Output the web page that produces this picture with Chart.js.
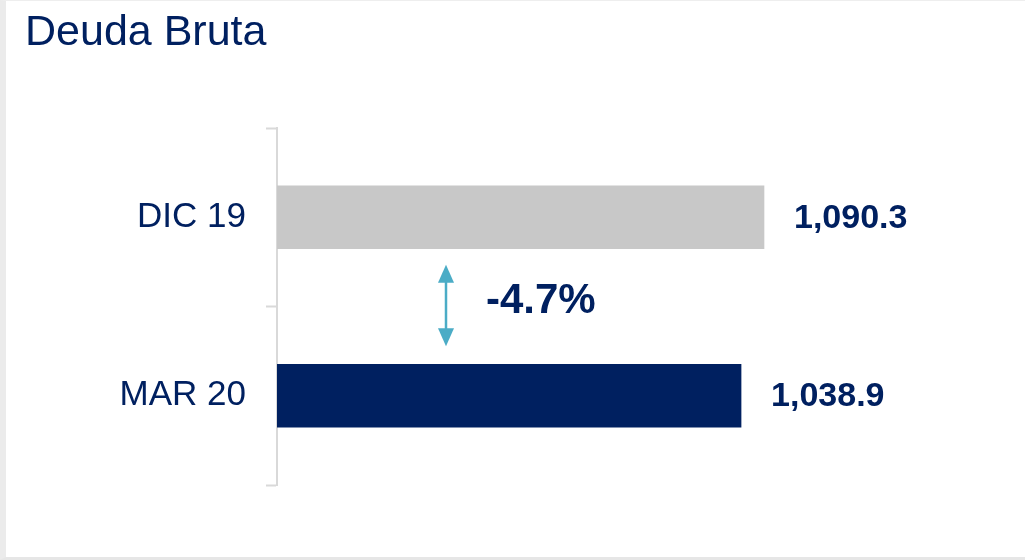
<!DOCTYPE html>
<html>
<head>
<meta charset="utf-8">
<script src="https://cdn.jsdelivr.net/npm/chart.js@4"></script>
<style>
  html, body { margin: 0; padding: 0; background: #fff; }
  #wrap { position: relative; width: 1025px; height: 560px; overflow: hidden; }
  #card {
    position: absolute; left: 0; top: 0; width: 1019px; height: 556px;
    background: #fff;
    border-left: 6px solid #ebebeb; border-top: 1px solid #eeeeee; border-bottom: 3px solid #e6e6e6;
  }
  #chart { position: absolute; left: 0; top: 0; }
</style>
</head>
<body>
<div id="wrap">
  <div id="card"></div>
  <canvas id="chart" width="1025" height="560"></canvas>
</div>
<script>
// datos del grafico
const periodos = ["DIC 19", "MAR 20"];
const deuda = [1090.3, 1038.9];
const colores = ["#c8c8c8", "#002060"];

const azul = "#002060";
const variacion = (deuda[1] - deuda[0]) / deuda[0] * 100;

function fmt(v) {
    return v.toLocaleString("en-US", { minimumFractionDigits: 1, maximumFractionDigits: 1 });
}

// etiquetas de valor al final de cada barra
const etiquetas = {
    id: "etiquetas",
    afterDatasetsDraw(chart) {
        const ctx = chart.ctx;
        const meta = chart.getDatasetMeta(0);
        ctx.save();
        ctx.fillStyle = azul;
        ctx.font = "bold 34px 'Liberation Sans', Arial, sans-serif";
        ctx.textAlign = "left";
        ctx.textBaseline = "middle";
        meta.data.forEach((bar, i) => {
            ctx.fillText(fmt(deuda[i]), bar.x + 30, bar.y + 1);
        });
        ctx.restore();
    }
};

// flecha y porcentaje de variacion
const flecha = {
    id: "flecha",
    afterDatasetsDraw(chart) {
        const ctx = chart.ctx;
        const meta = chart.getDatasetMeta(0);
        const b0 = meta.data[0], b1 = meta.data[1];
        const x = chart.chartArea.left + 169;
        const top = b0.y + b0.height / 2 + 16;
        const bottom = b1.y - b1.height / 2 - 18;
        const head = 18, half = 8;
        ctx.save();
        ctx.strokeStyle = "#4bacc6";
        ctx.fillStyle = "#4bacc6";
        ctx.lineWidth = 2.5;
        ctx.beginPath();
        ctx.moveTo(x, top + head - 2);
        ctx.lineTo(x, bottom - head + 2);
        ctx.stroke();
        ctx.beginPath();
        ctx.moveTo(x, top);
        ctx.lineTo(x - half, top + head);
        ctx.lineTo(x + half, top + head);
        ctx.closePath();
        ctx.fill();
        ctx.beginPath();
        ctx.moveTo(x, bottom);
        ctx.lineTo(x - half, bottom - head);
        ctx.lineTo(x + half, bottom - head);
        ctx.closePath();
        ctx.fill();

        ctx.fillStyle = azul;
        ctx.font = "bold 42px 'Liberation Sans', Arial, sans-serif";
        ctx.textAlign = "left";
        ctx.textBaseline = "middle";
        ctx.fillText(variacion.toFixed(1) + "%", chart.chartArea.left + 209, (top + bottom) / 2 - 4);
        ctx.restore();
    }
};

const ctx = document.getElementById("chart").getContext("2d");
new Chart(ctx, {
    type: "bar",
    data: {
        labels: periodos,
        datasets: [{
            data: deuda,
            backgroundColor: colores,
            borderWidth: 0,
            barThickness: 63
        }]
    },
    options: {
        indexAxis: "y",
        responsive: false,
        animation: false,
        layout: { padding: { left: 25, right: 78, top: 0, bottom: 75 } },
        plugins: {
            legend: { display: false },
            tooltip: { enabled: false },
            title: {
                display: true,
                text: "Deuda Bruta",
                align: "start",
                color: azul,
                font: { family: "'Liberation Sans', Arial, sans-serif", size: 43, weight: "normal", lineHeight: 1.2 },
                padding: { top: 7, bottom: 69.4 }
            }
        },
        scales: {
            x: {
                display: false,
                min: 0,
                max: 1500
            },
            y: {
                afterFit(scale) { scale.width = 252; },
                border: { display: true, color: "#d9d9d9", width: 2 },
                grid: {
                    drawOnChartArea: false,
                    drawTicks: true,
                    tickLength: 11,
                    tickWidth: 2,
                    color: "#d9d9d9"
                },
                ticks: {
                    color: azul,
                    padding: 20,
                    font: { family: "'Liberation Sans', Arial, sans-serif", size: 35 }
                }
            }
        }
    },
    plugins: [etiquetas, flecha]
});
</script>
</body>
</html>
